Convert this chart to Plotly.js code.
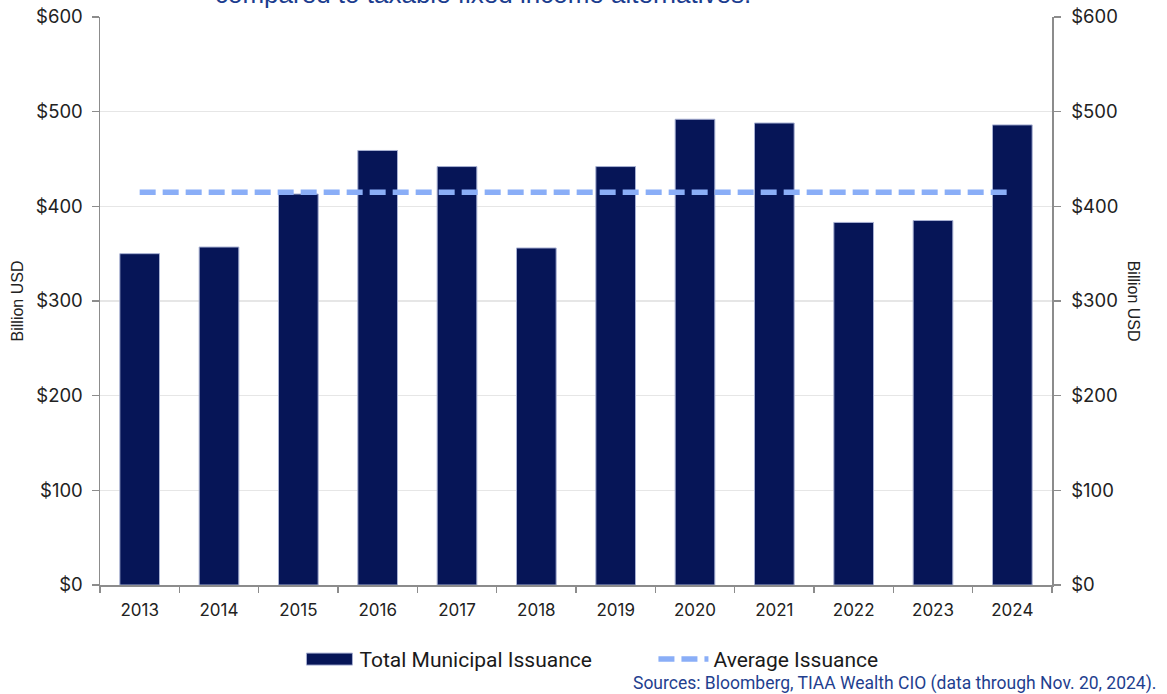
<!DOCTYPE html>
<html>
<head>
<meta charset="utf-8">
<script src="https://cdn.plot.ly/plotly-3.0.1.min.js"></script>
<style>
  html, body { margin: 0; padding: 0; background: #fff; }
  #chart { width: 1167px; height: 694px; }
</style>
</head>
<body>
<div id="chart"></div>
<script>
// ---- Data ----
const years = ["2013", "2014", "2015", "2016", "2017", "2018", "2019", "2020", "2021", "2022", "2023", "2024"];
const totalIssuance = [350, 357, 413, 459, 442, 356, 442, 492, 488, 383, 385, 486];
const averageIssuance = [415, 415, 415, 415, 415, 415, 415, 415, 415, 415, 415, 415];
const yTickVals = [0, 100, 200, 300, 400, 500, 600];
const yTickText = ["$0", "$100", "$200", "$300", "$400", "$500", "$600"];

const tickFont = { family: "Inter, 'Liberation Sans', Arial, sans-serif", size: 18.5, color: "#222222" };
const narrowFont = "'Liberation Sans Narrow', 'Arial Narrow', Roboto, sans-serif";

const traces = [
  {
    type: "bar",
    name: "Total Municipal Issuance",
    x: years,
    y: totalIssuance,
    marker: { color: "#061557", line: { color: "#a7b0d2", width: 1 } },
    hoverinfo: "x+y"
  },
  {
    type: "scatter",
    mode: "lines",
    name: "Average Issuance",
    x: years,
    y: averageIssuance,
    line: { color: "#8aaef7", width: 5.5, dash: "16px,7px" }
  },
  {
    type: "scatter",
    mode: "lines",
    x: years,
    y: averageIssuance,
    yaxis: "y2",
    showlegend: false,
    hoverinfo: "skip",
    line: { color: "rgba(0,0,0,0)", width: 0 }
  }
];

const layout = {
  width: 1167,
  height: 694,
  margin: { l: 100, r: 115, t: 17, b: 109, pad: 0 },
  paper_bgcolor: "#ffffff",
  plot_bgcolor: "#ffffff",
  bargap: 0.5,
  showlegend: true,
  legend: {
    orientation: "h",
    x: 0.2095,
    xanchor: "left",
    y: -0.095,
    yanchor: "top",
    itemwidth: 50,
    entrywidth: 289,
    entrywidthmode: "pixels",
    font: { family: narrowFont, size: 21, color: "#1a1a1a" },
    bgcolor: "rgba(0,0,0,0)"
  },
  xaxis: {
    type: "category",
    range: [-0.5, 11.5],
    tickson: "boundaries",
    ticks: "outside",
    ticklen: 6,
    tickwidth: 1.5,
    tickcolor: "#8c8c8c",
    showline: true,
    linecolor: "#8c8c8c",
    linewidth: 1.5,
    showgrid: false,
    tickfont: { family: "Inter, 'Liberation Sans', Arial, sans-serif", size: 17, color: "#222222" },
    ticklabelstandoff: 9,
    fixedrange: true
  },
  yaxis: {
    range: [0, 600],
    tickvals: yTickVals,
    ticktext: yTickText,
    ticks: "outside",
    ticklen: 7,
    tickwidth: 1.5,
    tickcolor: "#8c8c8c",
    showline: true,
    linecolor: "#8c8c8c",
    linewidth: 1.5,
    showgrid: true,
    gridcolor: "#e6e6e6",
    gridwidth: 1.2,
    zeroline: false,
    tickfont: tickFont,
    ticklabelstandoff: 5,
    title: { text: "Billion USD", font: { family: "'Liberation Sans', Arial, sans-serif", size: 16, color: "#222222" }, standoff: 8 },
    fixedrange: true
  },
  yaxis2: {
    overlaying: "y",
    side: "right",
    range: [0, 600],
    tickvals: yTickVals,
    ticktext: yTickText,
    ticks: "outside",
    ticklen: 7,
    tickwidth: 1.5,
    tickcolor: "#8c8c8c",
    showline: true,
    linecolor: "#8c8c8c",
    linewidth: 1.5,
    showgrid: false,
    zeroline: false,
    tickfont: tickFont,
    ticklabelstandoff: 7,
    fixedrange: true
  },
  annotations: [
    {
      text: "Billion USD",
      xref: "paper", yref: "paper",
      x: 1.0865, y: 0.5,
      xanchor: "center", yanchor: "middle",
      textangle: 90,
      showarrow: false,
      font: { family: "'Liberation Sans', Arial, sans-serif", size: 16, color: "#222222" }
    },
    {
      text: "compared to taxable fixed income alternatives.",
      xref: "paper", yref: "paper",
      x: 0.1187, y: 1.0413,
      xanchor: "left", yanchor: "middle",
      showarrow: false,
      font: { family: "'Liberation Sans', Arial, sans-serif", size: 26, color: "#1b3d8f" }
    },
    {
      text: "Sources: Bloomberg, TIAA Wealth CIO (data through Nov. 20, 2024).",
      xref: "paper", yref: "paper",
      x: 1.111, y: -0.1734,
      xanchor: "right", yanchor: "middle",
      showarrow: false,
      font: { family: narrowFont, size: 17.5, color: "#1f3f8f" }
    }
  ]
};

function widenBarSwatch() {
  // widen the bar legend swatch to a flat rectangle, as in the reference legend
  const gd = document.getElementById("chart");
  const items = gd.querySelectorAll("g.legend g.traces");
  if (!items.length) return;
  items[0].querySelectorAll("path").forEach(function (p) {
    const d = p.getAttribute("d") || "";
    if (/^M6,6H-6V-6H6Z$/.test(d.replace(/\s/g, ""))) {
      p.setAttribute("d", "M23,6H-23V-6H23Z");
    }
  });
}

Plotly.newPlot("chart", traces, layout, { displayModeBar: false, staticPlot: true }).then(function (gd) {
  widenBarSwatch();
  gd.on("plotly_afterplot", widenBarSwatch);
  setTimeout(widenBarSwatch, 50);
});
</script>
</body>
</html>
